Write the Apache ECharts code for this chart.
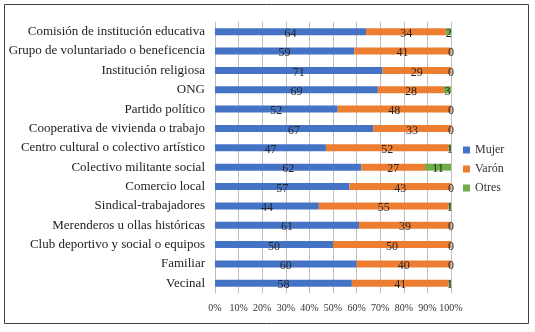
<!DOCTYPE html>
<html><head><meta charset="utf-8">
<script src="https://cdn.jsdelivr.net/npm/echarts@6/dist/echarts.min.js"></script>
<style>html,body{margin:0;padding:0;background:#fff}#c{width:535px;height:332px}</style>
</head><body><div id="c"></div>
<script>
const categories = ["Comisión de institución educativa","Grupo de voluntariado o beneficencia","Institución religiosa","ONG","Partido político","Cooperativa de vivienda o trabajo","Centro cultural o colectivo artístico","Colectivo militante social","Comercio local","Sindical-trabajadores","Merenderos u ollas históricas","Club deportivo y social o equipos","Familiar","Vecinal"];
const mujer = [64,59,71,69,52,67,47,62,57,44,61,50,60,58];
const varon = [34,41,29,28,48,33,52,27,43,55,39,50,40,41];
const otres = [2,0,0,3,0,0,1,11,0,1,0,0,0,1];
const seriesNames = ["Mujer","Varón","Otres"];
const colors = ["#4472C4","#ED7D31","#70AD47"];
const font = "Liberation Serif";
const chart = echarts.init(document.getElementById('c'));
const lbl = {show:true, position:'inside', color:'#262626', fontFamily:font, fontSize:12, offset:[0,2]};
chart.setOption({
  animation:false,
  graphic:[{type:'rect', shape:{x:4.5,y:4.5,width:524,height:319}, style:{fill:'none', stroke:'#404040', lineWidth:1}}],
  legend:{orient:'vertical', left:458, top:139, itemWidth:7, itemHeight:7, itemGap:7, icon:'rect',
    textStyle:{fontFamily:font, fontSize:12, color:'#333'}, data:seriesNames},
  grid:{left:215, right:84, top:22, bottom:39},
  xAxis:{type:'value', min:0, max:100, interval:10,
    axisLabel:{formatter:'{value}%', fontFamily:font, fontSize:10, color:'#333', margin:10},
    axisLine:{show:false}, axisTick:{show:false},
    splitLine:{lineStyle:{color:'#BFBFBF'}}},
  yAxis:{type:'category', data:categories, inverse:true,
    axisLabel:{fontFamily:font, fontSize:13, color:'#222', margin:10},
    axisLine:{lineStyle:{color:'#BFBFBF'}}, axisTick:{show:false}},
  series:[
    {name:seriesNames[0], type:'bar', stack:'t', data:mujer, barWidth:'36%', itemStyle:{color:colors[0]}, label:lbl},
    {name:seriesNames[1], type:'bar', stack:'t', data:varon, itemStyle:{color:colors[1]}, label:lbl},
    {name:seriesNames[2], type:'bar', stack:'t', data:otres, itemStyle:{color:colors[2]}, label:lbl}
  ]
});
</script></body></html>
